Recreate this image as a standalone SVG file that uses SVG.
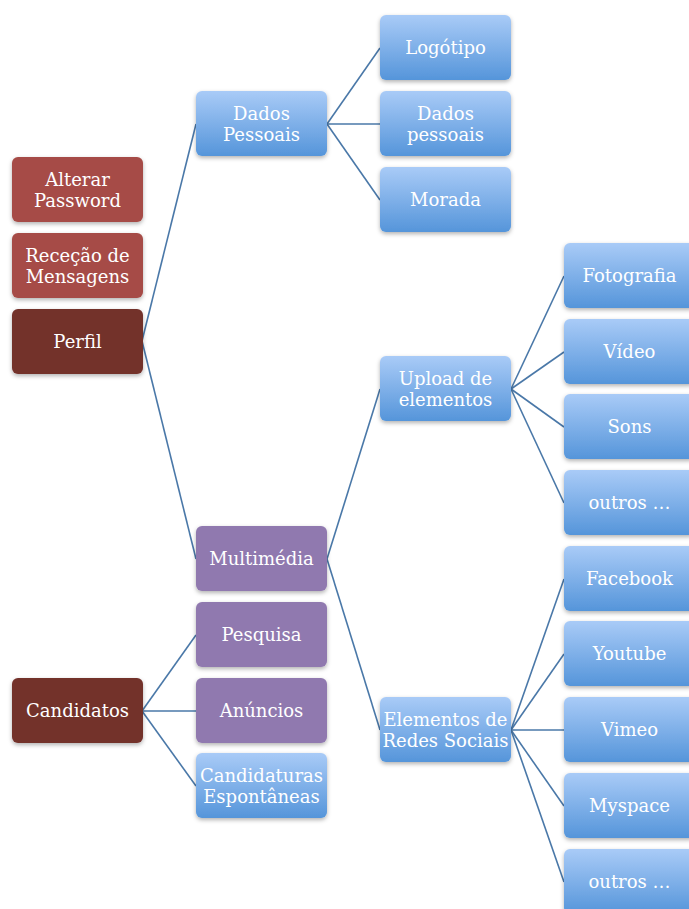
<svg xmlns="http://www.w3.org/2000/svg" width="689" height="909" viewBox="0 0 689 909">
<style>
.n rect{rx:6px;ry:6px;filter:url(#sh)}
.red rect{fill:#A64B46}
.dred rect{fill:#73302C}
.pur rect{fill:#9079AF}
.blue rect{fill:url(#bg)}
text{font-family:"DejaVu Serif","Liberation Serif",serif;font-size:18px;fill:#fff;text-anchor:middle}
#connectors line{stroke:#4A78A8;stroke-width:1.6}
</style>
<defs>
<linearGradient id="bg" x1="0" y1="0" x2="0" y2="1">
<stop offset="0" stop-color="#A9CBF7"/>
<stop offset="1" stop-color="#5595DA"/>
</linearGradient>
<filter id="sh" x="-10%" y="-10%" width="120%" height="130%">
<feDropShadow dx="0" dy="2" stdDeviation="2" flood-color="#000" flood-opacity="0.3"/>
</filter>
</defs>
<g id="connectors">
<line x1="142" y1="341" x2="196" y2="124"/>
<line x1="142" y1="341" x2="196" y2="559"/>
<line x1="327" y1="124" x2="380" y2="48"/>
<line x1="327" y1="124" x2="380" y2="124"/>
<line x1="327" y1="124" x2="380" y2="200"/>
<line x1="327" y1="559" x2="380" y2="389"/>
<line x1="327" y1="559" x2="380" y2="730"/>
<line x1="511" y1="389" x2="564" y2="276"/>
<line x1="511" y1="389" x2="564" y2="352"/>
<line x1="511" y1="389" x2="564" y2="427"/>
<line x1="511" y1="389" x2="564" y2="503"/>
<line x1="511" y1="730" x2="564" y2="579"/>
<line x1="511" y1="730" x2="564" y2="654"/>
<line x1="511" y1="730" x2="564" y2="730"/>
<line x1="511" y1="730" x2="564" y2="806"/>
<line x1="511" y1="730" x2="564" y2="882"/>
<line x1="142" y1="711" x2="196" y2="635"/>
<line x1="142" y1="711" x2="196" y2="711"/>
<line x1="142" y1="711" x2="196" y2="786"/>
</g>
<g id="alterar" class="n red"><rect x="12" y="157" width="131" height="65"/><text x="77.5" y="186">Alterar</text><text x="77.5" y="207">Password</text></g>
<g id="rececao" class="n red"><rect x="12" y="233" width="131" height="65"/><text x="77.5" y="262">Receção de</text><text x="77.5" y="283">Mensagens</text></g>
<g id="perfil" class="n dred"><rect x="12" y="309" width="131" height="65"/><text x="77.5" y="348">Perfil</text></g>
<g id="candidatos" class="n dred"><rect x="12" y="678" width="131" height="65"/><text x="77.5" y="717">Candidatos</text></g>
<g id="dadosPessoais" class="n blue"><rect x="196" y="91" width="131" height="65"/><text x="261.5" y="120">Dados</text><text x="261.5" y="141">Pessoais</text></g>
<g id="multimedia" class="n pur"><rect x="196" y="526" width="131" height="65"/><text x="261.5" y="565">Multimédia</text></g>
<g id="pesquisa" class="n pur"><rect x="196" y="602" width="131" height="65"/><text x="261.5" y="641">Pesquisa</text></g>
<g id="anuncios" class="n pur"><rect x="196" y="678" width="131" height="65"/><text x="261.5" y="717">Anúncios</text></g>
<g id="candidaturas" class="n blue"><rect x="196" y="753" width="131" height="65"/><text x="261.5" y="782">Candidaturas</text><text x="261.5" y="803">Espontâneas</text></g>
<g id="logotipo" class="n blue"><rect x="380" y="15" width="131" height="65"/><text x="445.5" y="54">Logótipo</text></g>
<g id="dadosPessoais2" class="n blue"><rect x="380" y="91" width="131" height="65"/><text x="445.5" y="120">Dados</text><text x="445.5" y="141">pessoais</text></g>
<g id="morada" class="n blue"><rect x="380" y="167" width="131" height="65"/><text x="445.5" y="206">Morada</text></g>
<g id="upload" class="n blue"><rect x="380" y="356" width="131" height="65"/><text x="445.5" y="385">Upload de</text><text x="445.5" y="406">elementos</text></g>
<g id="redes" class="n blue"><rect x="380" y="697" width="131" height="65"/><text x="445.5" y="726">Elementos de</text><text x="445.5" y="747">Redes Sociais</text></g>
<g id="fotografia" class="n blue"><rect x="564" y="243" width="131" height="65"/><text x="629.5" y="282">Fotografia</text></g>
<g id="video" class="n blue"><rect x="564" y="319" width="131" height="65"/><text x="629.5" y="358">Vídeo</text></g>
<g id="sons" class="n blue"><rect x="564" y="394" width="131" height="65"/><text x="629.5" y="433">Sons</text></g>
<g id="outros1" class="n blue"><rect x="564" y="470" width="131" height="65"/><text x="629.5" y="509">outros …</text></g>
<g id="facebook" class="n blue"><rect x="564" y="546" width="131" height="65"/><text x="629.5" y="585">Facebook</text></g>
<g id="youtube" class="n blue"><rect x="564" y="621" width="131" height="65"/><text x="629.5" y="660">Youtube</text></g>
<g id="vimeo" class="n blue"><rect x="564" y="697" width="131" height="65"/><text x="629.5" y="736">Vimeo</text></g>
<g id="myspace" class="n blue"><rect x="564" y="773" width="131" height="65"/><text x="629.5" y="812">Myspace</text></g>
<g id="outros2" class="n blue"><rect x="564" y="849" width="131" height="65"/><text x="629.5" y="888">outros …</text></g>
</svg>
